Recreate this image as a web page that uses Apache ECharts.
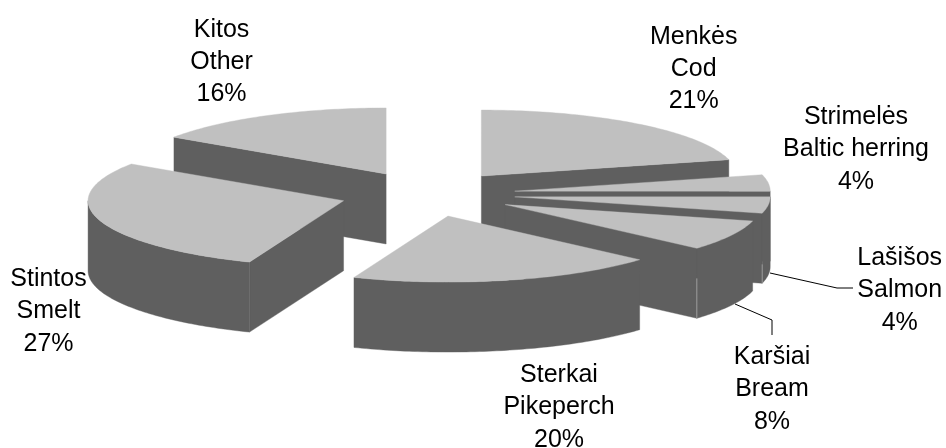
<!DOCTYPE html>
<html>
<head>
<meta charset="utf-8">
<style>html,body{margin:0;padding:0;background:#fff}#c{width:946px;height:448px}</style>
<script src="https://cdn.jsdelivr.net/npm/echarts@6/dist/echarts.min.js"></script>
</head>
<body>
<div id="c"></div>
<script>
// ---- data ----
const namesLt = ['Menkės', 'Strimelės', 'Lašišos', 'Karšiai', 'Sterkai', 'Stintos', 'Kitos'];
const namesEn = ['Cod', 'Baltic herring', 'Salmon', 'Bream', 'Pikeperch', 'Smelt', 'Other'];
const printedPercent = [21, 4, 4, 8, 20, 27, 16];
// share of the circle each slice sweeps in the drawing
const sweptShare = [21, 4, 4, 7.5, 19.5, 28.4, 15.6];

// ---- layout ----
const pie = { cx: 427.5, cy: 194, rx: 255.5, ry: 66, depth: 70, explode: 0.344 };
const colors = { top: '#C0C0C0', side: '#5F5F5F', seam: '#9A9A9A', text: '#000' };
const labelAnchor = [[693.7, 69], [856, 149.5], [899.7, 290.5], [772, 389.5], [559, 407.5], [48.5, 311.5], [221.5, 62.3]];
const leaders = {
  2: [[770, 273], [837, 288], [853, 288]],
  3: [[735, 304], [772, 320], [772, 335]]
};
const seams = { 2: 0.27, 3: 0.57 };

const total = sweptShare.reduce((a, b) => a + b, 0);
let acc = 0;
const sliceRows = sweptShare.map((v, i) => {
  const start = acc / total * 360; acc += v;
  return [start, acc / total * 360, i];
});
// paint from the back of the pie towards the front
const backToFront = sliceRows.slice().sort((a, b) =>
  -Math.cos((a[0] + a[1]) / 360 * Math.PI) + Math.cos((b[0] + b[1]) / 360 * Math.PI));

function renderSlice(params, api) {
  const t0 = api.value(0), t1 = api.value(1), idx = api.value(2);
  const rad = d => d * Math.PI / 180;
  const tm = rad((t0 + t1) / 2);
  const ox = pie.cx + pie.explode * pie.rx * Math.sin(tm);
  const oy = pie.cy - pie.explode * pie.ry * Math.cos(tm);
  const rim = d => [ox + pie.rx * Math.sin(rad(d)), oy - pie.ry * Math.cos(rad(d))];
  const down = p => [p[0], p[1] + pie.depth];
  const arc = (a, b) => {
    const pts = [];
    const n = Math.max(1, Math.ceil(b - a));
    for (let k = 0; k <= n; k++) pts.push(rim(a + (b - a) * k / n));
    return pts;
  };
  const poly = (points, fill) => ({
    type: 'polygon', shape: { points },
    style: { fill, stroke: fill, lineWidth: 0.4 }
  });
  const children = [];
  const apex = [ox, oy];
  if (t0 > 180) children.push(poly([apex, rim(t0), down(rim(t0)), down(apex)], colors.side));
  if (t1 < 180) children.push(poly([apex, rim(t1), down(rim(t1)), down(apex)], colors.side));
  const wa = Math.max(t0, 90), wb = Math.min(t1, 270);
  if (wb > wa) {
    const a = arc(wa, wb);
    children.push(poly(a.concat(a.slice().reverse().map(down)), colors.side));
  }
  if (seams[idx] !== undefined) {
    const b = down(rim(t1));
    children.push({
      type: 'line',
      shape: { x1: b[0], y1: b[1], x2: b[0], y2: b[1] - pie.depth * seams[idx] },
      style: { stroke: colors.seam, lineWidth: 1 }
    });
  }
  children.push(poly([apex].concat(arc(t0, t1)), colors.top));
  return { type: 'group', children };
}

function renderLabel(params, api) {
  const i = api.value(0);
  const children = [{
    type: 'text',
    x: labelAnchor[i][0], y: labelAnchor[i][1],
    style: {
      text: namesLt[i] + '\n' + namesEn[i] + '\n' + api.value(1) + '%',
      fontFamily: '"Liberation Sans", Arial, sans-serif',
      fontSize: 25, lineHeight: 32.2, fill: colors.text,
      align: 'center', verticalAlign: 'middle'
    }
  }];
  if (leaders[i]) {
    children.push({
      type: 'polyline', shape: { points: leaders[i] },
      style: { stroke: '#000', lineWidth: 1, fill: 'none' }
    });
  }
  return { type: 'group', children };
}

const chart = echarts.init(document.getElementById('c'), null, { renderer: 'canvas' });
chart.setOption({
  animation: false,
  backgroundColor: '#fff',
  series: [
    { type: 'custom', coordinateSystem: 'none', renderItem: renderSlice, data: backToFront, silent: true },
    { type: 'custom', coordinateSystem: 'none', renderItem: renderLabel,
      data: printedPercent.map((p, i) => [i, p]), silent: true, z: 3 }
  ]
});
</script>
</body>
</html>
